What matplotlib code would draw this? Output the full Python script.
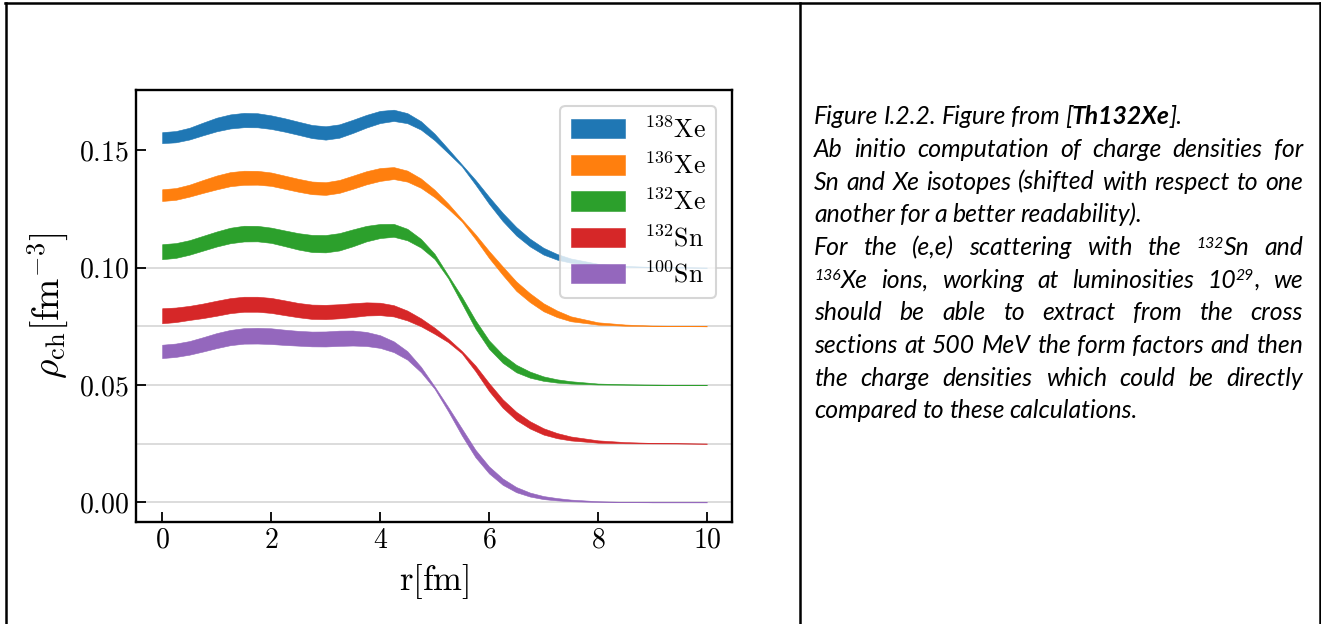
import numpy as np
import matplotlib
matplotlib.use("Agg")
import matplotlib.pyplot as plt
from matplotlib.lines import Line2D

plt.rcParams["font.family"] = ["serif"]
plt.rcParams["font.serif"] = ["cmr10", "DejaVu Serif"]
plt.rcParams["mathtext.fontset"] = "cm"
plt.rcParams["axes.formatter.use_mathtext"] = True
plt.rcParams["axes.unicode_minus"] = False

# ── Data: charge density bands (centre and thickness) ────
r = [0, 0.25, 0.5, 0.75, 1, 1.25, 1.5, 1.75, 2, 2.25, 2.5, 2.75, 3, 3.25, 3.5, 3.75,
     4, 4.25, 4.5, 4.75, 5, 5.25, 5.5, 5.75, 6, 6.25, 6.5, 6.75, 7, 7.25, 7.5,
     8, 8.5, 9, 9.5, 10]

labels = [r"$^{138}\mathrm{Xe}$", r"$^{136}\mathrm{Xe}$", r"$^{132}\mathrm{Xe}$",
          r"$^{132}\mathrm{Sn}$", r"$^{100}\mathrm{Sn}$"]
offsets = [0.1, 0.075, 0.05, 0.025, 0.0]
colors = ["#1f77b4", "#ff7f0e", "#2ca02c", "#d62728", "#9467bd"]

xe138_mid = [0.0554, 0.0558, 0.0571, 0.0591, 0.0610, 0.0623, 0.0629, 0.0628, 0.0620, 0.0608,
             0.0594, 0.0580, 0.0574, 0.0582, 0.0602, 0.0624, 0.0642, 0.0649, 0.0637, 0.0606,
             0.0557, 0.0497, 0.0436, 0.0364, 0.0287, 0.0216, 0.0155, 0.0107, 0.0070, 0.0046,
             0.0030, 0.0012, 0.0005, 0.0002, 0.0001, 0.0000]
xe138_wid = [0.0047, 0.0048, 0.0050, 0.0054, 0.0058, 0.0060, 0.0061, 0.0060, 0.0058, 0.0057,
             0.0056, 0.0056, 0.0057, 0.0057, 0.0056, 0.0054, 0.0052, 0.0048, 0.0043, 0.0036,
             0.0028, 0.0018, 0.0008, 0.0020, 0.0030, 0.0035, 0.0036, 0.0033, 0.0029, 0.0024,
             0.0018, 0.0009, 0.0004, 0.0002, 0.0001, 0.0000]

xe136_mid = [0.0559, 0.0564, 0.0578, 0.0596, 0.0613, 0.0627, 0.0633, 0.0633, 0.0627, 0.0614,
             0.0601, 0.0590, 0.0587, 0.0596, 0.0614, 0.0633, 0.0647, 0.0653, 0.0640, 0.0610,
             0.0566, 0.0512, 0.0452, 0.0382, 0.0306, 0.0237, 0.0171, 0.0122, 0.0081, 0.0053,
             0.0032, 0.0012, 0.0005, 0.0002, 0.0001, 0.0000]
xe136_wid = [0.0050, 0.0050, 0.0051, 0.0055, 0.0059, 0.0060, 0.0060, 0.0059, 0.0057, 0.0056,
             0.0055, 0.0054, 0.0054, 0.0055, 0.0056, 0.0056, 0.0055, 0.0051, 0.0047, 0.0040,
             0.0032, 0.0022, 0.0010, 0.0020, 0.0030, 0.0036, 0.0040, 0.0038, 0.0034, 0.0028,
             0.0021, 0.0010, 0.0005, 0.0002, 0.0001, 0.0000]

xe132_mid = [0.0568, 0.0573, 0.0586, 0.0604, 0.0622, 0.0637, 0.0645, 0.0645, 0.0638, 0.0625,
             0.0612, 0.0603, 0.0602, 0.0610, 0.0627, 0.0645, 0.0656, 0.0659, 0.0641, 0.0604,
             0.0548, 0.0461, 0.0362, 0.0258, 0.0172, 0.0112, 0.0070, 0.0044, 0.0027, 0.0017,
             0.0011, 0.0004, 0.0002, 0.0001, 0.0000, 0.0000]
xe132_wid = [0.0064, 0.0063, 0.0062, 0.0063, 0.0064, 0.0066, 0.0067, 0.0066, 0.0065, 0.0067,
             0.0070, 0.0073, 0.0074, 0.0074, 0.0072, 0.0066, 0.0060, 0.0055, 0.0049, 0.0037,
             0.0022, 0.0012, 0.0028, 0.0036, 0.0036, 0.0035, 0.0032, 0.0026, 0.0019, 0.0014,
             0.0010, 0.0004, 0.0002, 0.0001, 0.0000, 0.0000]

sn132_mid = [0.0545, 0.0549, 0.0557, 0.0566, 0.0577, 0.0588, 0.0594, 0.0594, 0.0589, 0.0579,
             0.0569, 0.0562, 0.0561, 0.0564, 0.0569, 0.0574, 0.0574, 0.0566, 0.0546, 0.0517,
             0.0481, 0.0440, 0.0390, 0.0321, 0.0241, 0.0171, 0.0118, 0.0080, 0.0052, 0.0034,
             0.0022, 0.0009, 0.0004, 0.0002, 0.0001, 0.0000]
sn132_wid = [0.0064, 0.0062, 0.0060, 0.0062, 0.0064, 0.0064, 0.0064, 0.0064, 0.0064, 0.0063,
             0.0061, 0.0061, 0.0061, 0.0060, 0.0059, 0.0056, 0.0053, 0.0048, 0.0042, 0.0034,
             0.0026, 0.0015, 0.0010, 0.0024, 0.0034, 0.0036, 0.0035, 0.0031, 0.0027, 0.0022,
             0.0017, 0.0010, 0.0005, 0.0002, 0.0001, 0.0000]

sn100_mid = [0.0643, 0.0648, 0.0658, 0.0673, 0.0689, 0.0702, 0.0709, 0.0710, 0.0708, 0.0703,
             0.0699, 0.0696, 0.0696, 0.0699, 0.0700, 0.0696, 0.0685, 0.0663, 0.0626, 0.0566,
             0.0489, 0.0397, 0.0300, 0.0208, 0.0138, 0.0088, 0.0054, 0.0033, 0.0020, 0.0013,
             0.0008, 0.0003, 0.0001, 0.0000, 0.0000, 0.0000]
sn100_wid = [0.0057, 0.0057, 0.0058, 0.0061, 0.0064, 0.0065, 0.0066, 0.0067, 0.0067, 0.0065,
             0.0063, 0.0063, 0.0064, 0.0065, 0.0064, 0.0060, 0.0054, 0.0046, 0.0036, 0.0023,
             0.0010, 0.0018, 0.0030, 0.0032, 0.0030, 0.0027, 0.0022, 0.0017, 0.0013, 0.0010,
             0.0007, 0.0003, 0.0001, 0.0000, 0.0000, 0.0000]

band_mid = [xe138_mid, xe136_mid, xe132_mid, sn132_mid, sn100_mid]
band_wid = [xe138_wid, xe136_wid, xe132_wid, sn132_wid, sn100_wid]

W, H = 1321, 624
fig = plt.figure(figsize=(W / 100, H / 100), dpi=100)

# ── Chart ─────────────────────────────────────────────────────────────────────
ax = fig.add_axes([136 / W, 1 - 522 / H, (732 - 136) / W, (522 - 90) / H])
for off in offsets:
    ax.axhline(off, color="#d5d5d5", lw=1.2, zorder=0)
for lab, off, col, mid, wid in zip(labels, offsets, colors, band_mid, band_wid):
    mid = off + np.array(mid)
    half = np.array(wid) / 2
    ax.fill_between(r, mid - half, mid + half, color=col, lw=0.4, label=lab, zorder=2)

ax.set_xlim(-0.48, 10.46)
ax.set_ylim(-0.0084, 0.1757)
ax.set_xticks([0, 2, 4, 6, 8, 10])
ax.set_yticks([0.0, 0.05, 0.10, 0.15])
ax.tick_params(direction="in", length=7.5, width=1.3, labelsize=20, pad=5)
ax.tick_params(axis="x", pad=4)
for sp in ax.spines.values():
    sp.set_linewidth(1.7)
ax.set_xlabel(r"$\mathrm{r}[\mathrm{fm}]$", fontsize=25, labelpad=6)
ax.set_ylabel(r"$\rho_{\mathrm{ch}}[\mathrm{fm}^{-3}]$", fontsize=27, labelpad=6)

leg = ax.legend(loc="upper right", fontsize=18.5, handlelength=2.1, handleheight=0.78,
                labelspacing=0.38, handletextpad=0.75, borderpad=0.4,
                borderaxespad=0.62, fancybox=True, framealpha=0.8, edgecolor="0.8")
leg.get_frame().set_linewidth(1.5)

# ── Table borders ─────────────────────────────────────────────────────────────
def hline(y, x0, x1):
    fig.add_artist(Line2D([x0 / W, x1 / W], [1 - y / H, 1 - y / H], color="black",
                          lw=1.8, transform=fig.transFigure))

def vline(x, y0, y1):
    fig.add_artist(Line2D([x / W, x / W], [1 - y0 / H, 1 - y1 / H], color="black",
                          lw=1.8, transform=fig.transFigure))

hline(2.5, 4.5, 1321)
vline(5.5, 2.5, 624)
vline(800, 2.5, 624)
vline(1319.5, 2.5, 624)

# ── Caption text, justified like the document cell ────────────────────────────
caption = [
    ([[("Figure", "n")], [("I.2.2.", "n")], [("Figure", "n")], [("from", "n")],
      [("[", "n"), ("Th132Xe", "b"), ("].", "n")]], False),
    ("Ab initio computation of charge densities for", True),
    ("Sn and Xe isotopes (shifted with respect to one", True),
    ("another for a better readability).", False),
    ([[("For", "n")], [("the", "n")], [("(e,e)", "n")], [("scattering", "n")],
      [("with", "n")], [("the", "n")], [("132", "s"), ("Sn", "n")], [("and", "n")]], True),
    ([[("136", "s"), ("Xe", "n")], [("ions,", "n")], [("working", "n")], [("at", "n")],
      [("luminosities", "n")], [("10", "n"), ("29", "s"), (",", "n")], [("we", "n")]], True),
    ("should be able to extract from the cross", True),
    ("sections at 500 MeV the form factors and then", True),
    ("the charge densities which could be directly", True),
    ("compared to these calculations.", False),
]

x_left, x_right = 814, 1303
base0, step = 124.3, 32.67
renderer = fig.canvas.get_renderer()

def text_width(s, size, weight="normal"):
    t = fig.text(0, 0, s, fontsize=size, style="italic", family=["Lato"], fontweight=weight)
    w = t.get_window_extent(renderer).width
    t.remove()
    return w

# fit the font so the tightest justified lines just fill the cell width
fs0 = 14
tight = [c[0] for c in caption if isinstance(c[0], str) and c[1]]
widest = max(text_width(s, fs0) for s in tight)
fs = fs0 * (x_right - x_left) / (widest * 1.01)

for i, (line, justify) in enumerate(caption):
    if isinstance(line, str):
        words = [[(w, "n")] for w in line.split()]
    else:
        words = line
    yb = base0 + i * step
    built = []
    for word in words:
        parts = []
        for s, kind in word:
            size = fs * 0.64 if kind == "s" else fs
            t = fig.text(0, 0, s, fontsize=size, style="italic", family=["Lato"],
                         fontweight="bold" if kind == "b" else "normal",
                         ha="left", va="baseline", transform=fig.transFigure)
            parts.append((t, t.get_window_extent(renderer).width, kind))
        built.append(parts)
    widths = [sum(p[1] for p in parts) for parts in built]
    if justify and len(built) > 1:
        gap = (x_right - x_left - sum(widths)) / (len(built) - 1)
    else:
        gap = fs * 100 / 72 * 0.21
    x = x_left
    for parts, wpx in zip(built, widths):
        xx = x
        for t, pw, kind in parts:
            dy = fs * 100 / 72 * 0.3 if kind == "s" else 0
            t.set_position((xx / W, 1 - (yb - dy) / H))
            xx += pw
        x += wpx + gap

fig.savefig("out.png", dpi=100)
